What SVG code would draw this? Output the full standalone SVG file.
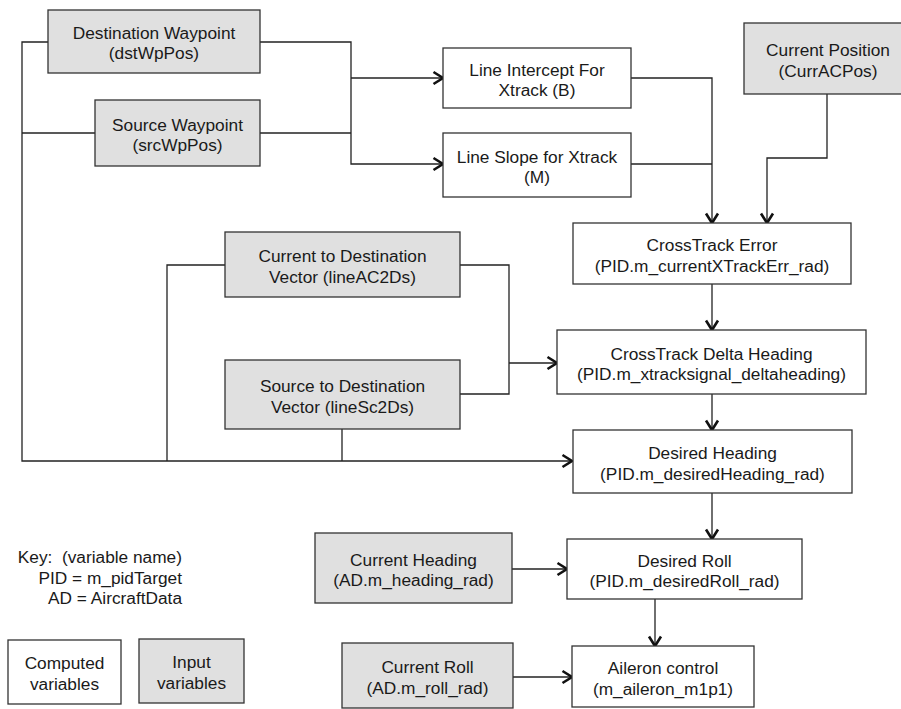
<svg xmlns="http://www.w3.org/2000/svg" width="901" height="709" viewBox="0 0 901 709">
<style>
.box{fill:#ffffff;stroke:#333;stroke-width:1.3}
.in{fill:#e0e0e0;stroke:#333;stroke-width:1.3}
text{font-family:"Liberation Sans",Arial,sans-serif;font-size:17.3px;fill:#1a1a1a;text-anchor:middle}
.key{text-anchor:end}
.c{fill:none;stroke:#222;stroke-width:1.3}
.a{marker-end:url(#arr)}
</style>
<defs>
<marker id="arr" markerUnits="userSpaceOnUse" markerWidth="14" markerHeight="16" refX="11" refY="7.5" orient="auto" viewBox="0 0 14 15">
<path d="M1.5,1.5 L11,7.5 L1.5,13.5" fill="none" stroke="#111" stroke-width="2.6"/>
</marker>
</defs>
<rect width="901" height="709" fill="#ffffff"/>
<g id="connectors">
<path class="c a" d="M48,42 H22 V461 H572"/>
<path class="c" d="M95,133 H22"/>
<path class="c" d="M225,265 H167 V461"/>
<path class="c" d="M342,429 V461"/>
<path class="c a" d="M260,42 H351 V164 H443"/>
<path class="c a" d="M351,78 H443"/>
<path class="c" d="M260,133 H351"/>
<path class="c a" d="M631,78 H712 V223"/>
<path class="c" d="M631,164 H712"/>
<path class="c a" d="M827,94 V158 H767 V223"/>
<path class="c a" d="M712,284 V330"/>
<path class="c" d="M460,265 H509 V394 H460"/>
<path class="c a" d="M509,363 H557"/>
<path class="c a" d="M712,394 V430"/>
<path class="c a" d="M712,493 V539"/>
<path class="c a" d="M512,569 H567"/>
<path class="c a" d="M655,599 V646"/>
<path class="c a" d="M513,677 H572"/>
</g>
<g id="dstWpPos"><rect class="in" x="48" y="10" width="212" height="63"/><text x="154" y="39">Destination Waypoint</text><text x="154" y="59">(dstWpPos)</text></g>
<g id="srcWpPos"><rect class="in" x="95" y="100" width="165" height="66"/><text x="177.5" y="130.5">Source Waypoint</text><text x="177.5" y="151">(srcWpPos)</text></g>
<g id="lineB"><rect class="box" x="443" y="48" width="188" height="60"/><text x="537" y="75.5">Line Intercept For</text><text x="537" y="96">Xtrack (B)</text></g>
<g id="lineM"><rect class="box" x="443" y="133" width="188" height="64"/><text x="537" y="162.5">Line Slope for Xtrack</text><text x="537" y="183">(M)</text></g>
<g id="currACPos"><rect class="in" x="744" y="23" width="168" height="71"/><text x="828" y="56">Current Position</text><text x="828" y="76.5">(CurrACPos)</text></g>
<g id="xtrackErr"><rect class="box" x="573" y="223" width="278" height="61"/><text x="712" y="251">CrossTrack Error</text><text x="712" y="271.5">(PID.m_currentXTrackErr_rad)</text></g>
<g id="lineAC2Ds"><rect class="in" x="225" y="232" width="235" height="65"/><text x="342.5" y="262">Current to Destination</text><text x="342.5" y="282.5">Vector (lineAC2Ds)</text></g>
<g id="deltaHeading"><rect class="box" x="557" y="330" width="309" height="64"/><text x="711.5" y="359.5">CrossTrack Delta Heading</text><text x="711.5" y="380">(PID.m_xtracksignal_deltaheading)</text></g>
<g id="lineSc2Ds"><rect class="in" x="225" y="360" width="235" height="69"/><text x="342.5" y="392">Source to Destination</text><text x="342.5" y="412.5">Vector (lineSc2Ds)</text></g>
<g id="desiredHeading"><rect class="box" x="573" y="430" width="279" height="63"/><text x="712.5" y="459">Desired Heading</text><text x="712.5" y="479.5">(PID.m_desiredHeading_rad)</text></g>
<g id="currHeading"><rect class="in" x="315" y="533" width="197" height="70"/><text x="413.5" y="565.5">Current Heading</text><text x="413.5" y="586">(AD.m_heading_rad)</text></g>
<g id="desiredRoll"><rect class="box" x="567" y="539" width="235" height="60"/><text x="684.5" y="566.5">Desired Roll</text><text x="684.5" y="587">(PID.m_desiredRoll_rad)</text></g>
<g id="currRoll"><rect class="in" x="342" y="643" width="171" height="65"/><text x="427.5" y="673">Current Roll</text><text x="427.5" y="693.5">(AD.m_roll_rad)</text></g>
<g id="aileron"><rect class="box" x="572" y="646" width="182" height="61"/><text x="663" y="674">Aileron control</text><text x="663" y="694.5">(m_aileron_m1p1)</text></g>
<g id="key">
<text class="key" x="182" y="563" xml:space="preserve">Key:  (variable name)</text>
<text class="key" x="182" y="583.5">PID = m_pidTarget</text>
<text class="key" x="182" y="604">AD = AircraftData</text>
</g>
<g id="keyComputed"><rect class="box" x="8" y="640" width="113" height="64"/><text x="64.5" y="669">Computed</text><text x="64.5" y="689.5">variables</text></g>
<g id="keyInput"><rect class="in" x="139" y="639" width="105" height="64"/><text x="191.5" y="668">Input</text><text x="191.5" y="688.5">variables</text></g>
</svg>
